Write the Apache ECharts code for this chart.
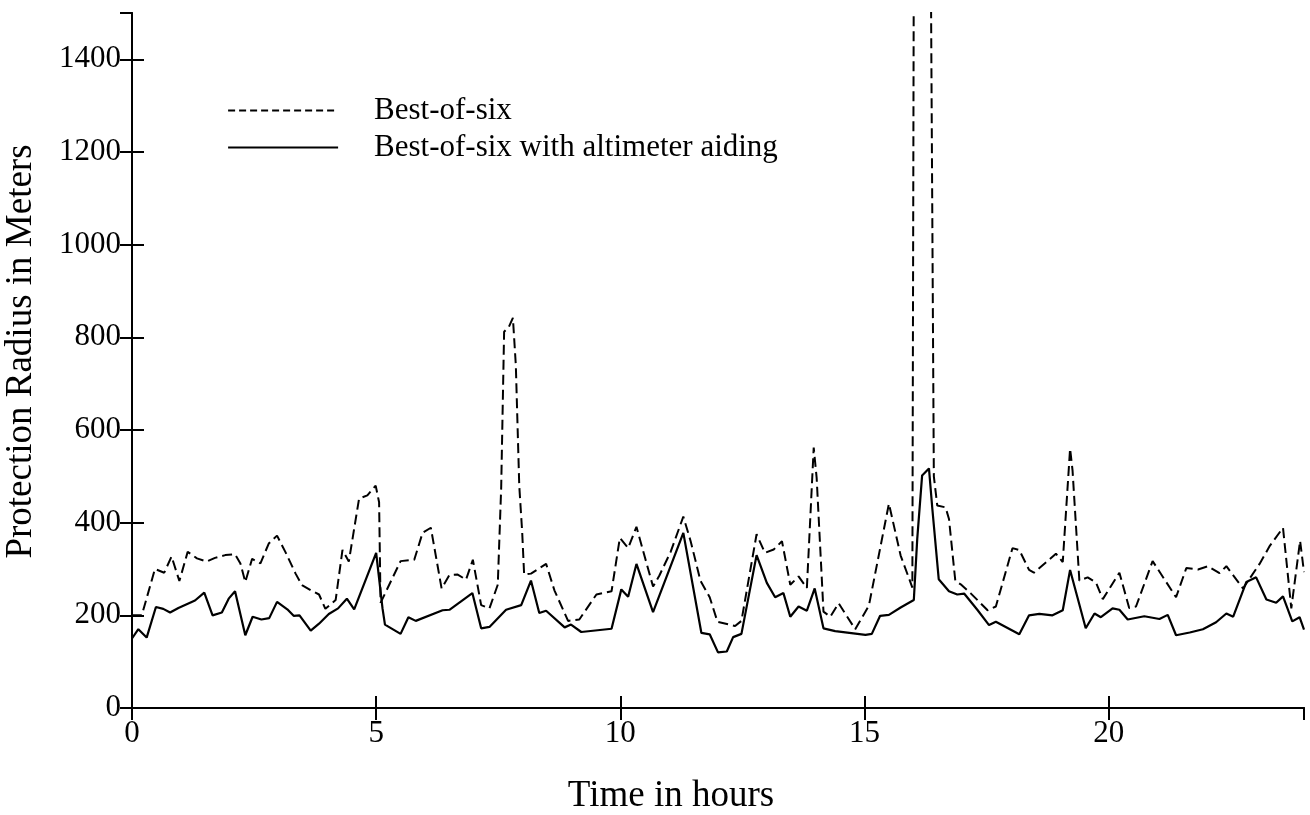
<!DOCTYPE html>
<html>
<head>
<meta charset="utf-8">
<script src="https://cdn.jsdelivr.net/npm/echarts@6/dist/echarts.min.js"></script>
<style>
html,body{margin:0;padding:0;background:#fff;}
#chart{width:1310px;height:815px;}
</style>
</head>
<body>
<div id="chart"></div>
<script>
// Time in hours / protection radius (m)
const dashT = [0,0.2,0.47,0.66,0.81,0.97,1.14,1.33,1.53,1.7,1.91,2.11,2.22,2.32,2.46,2.63,2.8,2.97,3.14,3.35,3.48,3.66,3.83,3.96,4.17,4.31,4.44,4.65,4.82,4.99,5.06,5.09,5.5,5.78,5.95,6.12,6.34,6.5,6.67,6.84,6.98,7.15,7.32,7.49,7.56,7.62,7.72,7.8,7.86,7.93,7.99,8.03,8.17,8.48,8.65,8.93,9.16,9.51,9.82,9.99,10.16,10.33,10.67,10.8,11.03,11.29,11.44,11.64,11.83,11.99,12.35,12.48,12.79,12.96,13.14,13.31,13.48,13.65,13.82,13.96,14.02,14.16,14.3,14.47,14.81,15.09,15.5,15.74,15.98,16.04,16.28,16.42,16.49,16.66,16.73,16.86,16.97,17.17,17.52,17.69,18.03,18.17,18.37,18.47,18.92,19.06,19.21,19.26,19.4,19.57,19.74,19.88,20.22,20.42,20.56,20.9,21.38,21.59,21.83,22.03,22.27,22.41,22.75,23.09,23.3,23.57,23.74,23.92,24];
const dashV = [200,200,300,292,327,274,337,323,316,324,330,332,312,272,322,312,355,372,337,290,265,254,245,214,233,341,316,452,459,480,444,227,317,320,378,389,258,287,288,277,320,222,215,266,475,812,823,842,740,480,380,288,290,311,254,188,191,245,252,367,345,391,262,286,337,413,360,275,239,186,177,188,375,335,342,360,266,284,259,562,497,208,197,226,170,221,441,329,260,3000,3000,500,437,433,408,274,267,248,211,219,345,341,298,292,333,315,560,513,275,282,271,235,292,216,219,317,239,302,299,306,291,306,258,311,350,389,215,361,293];
const solidT = [0,0.13,0.3,0.49,0.64,0.78,0.95,1.29,1.48,1.65,1.84,1.98,2.11,2.32,2.47,2.65,2.81,2.97,3.18,3.31,3.43,3.66,3.83,4.03,4.22,4.4,4.55,5.0,5.13,5.18,5.5,5.66,5.81,6.36,6.5,6.97,7.15,7.32,7.66,7.97,8.17,8.34,8.48,8.86,8.99,9.2,9.82,10.02,10.16,10.33,10.67,11.29,11.66,11.83,12.0,12.18,12.31,12.48,12.79,13.0,13.17,13.34,13.48,13.65,13.82,13.98,14.16,14.4,15.02,15.15,15.32,15.5,15.74,16.01,16.08,16.18,16.32,16.39,16.52,16.73,16.9,17.04,17.31,17.55,17.69,18.17,18.37,18.58,18.85,19.06,19.21,19.36,19.53,19.71,19.84,20.08,20.22,20.39,20.73,21.04,21.21,21.38,21.66,21.93,22.2,22.41,22.55,22.82,23.02,23.23,23.43,23.57,23.76,23.91,24];
const solidV = [150,170,152,218,214,206,216,232,249,200,206,236,252,157,197,191,194,229,213,199,200,167,182,203,215,236,213,335,215,180,160,196,188,211,212,248,172,175,212,222,275,205,210,174,180,164,171,256,240,311,207,378,162,159,120,122,153,160,330,270,239,248,197,219,210,258,172,166,158,160,199,201,217,233,365,502,517,429,278,252,245,247,212,179,186,159,200,203,200,211,298,239,172,204,196,215,212,191,198,192,201,157,163,170,185,204,197,272,282,234,227,241,187,196,169];
const seriesNames = ['Best-of-six','Best-of-six with altimeter aiding'];
const xTicks = [0,5,10,15,20];
const yTicks = [0,200,400,600,800,1000,1200,1400];

const FONT = 'Liberation Serif';
const chart = echarts.init(document.getElementById('chart'), null, {renderer:'canvas'});
const pair = (t, v) => t.map((x, i) => [x, v[i]]);
const axisLineStyle = {show:true, lineStyle:{color:'#000', width:2}};
const tickStyle = {show:true, inside:true, length:12, lineStyle:{color:'#000', width:2}};

chart.setOption({
  backgroundColor:'#fff',
  animation:false,
  grid:{left:132, right:6, top:13, bottom:107, containLabel:false, outerBoundsMode:'none'},
  legend:{
    left:222, top:90, orient:'vertical', itemWidth:110, itemHeight:14, itemGap:6,
    itemStyle:{opacity:0},
    data:[
      {name:seriesNames[0], lineStyle:{type:[7,4], width:2.2, color:'#000'}},
      {name:seriesNames[1], lineStyle:{type:'solid', width:2.2, color:'#000'}}
    ],
    textStyle:{fontFamily:FONT, fontSize:31, color:'#000', lineHeight:31, padding:[0,0,0,31]}
  },
  xAxis:[
    {type:'value', min:0, max:24, interval:5, position:'bottom',
     name:'Time in hours', nameLocation:'middle', nameGap:70,
     nameTextStyle:{fontFamily:FONT, fontSize:37, color:'#000', padding:[0,94,0,0]},
     axisLine:axisLineStyle, axisTick:tickStyle, splitLine:{show:false},
     axisLabel:{fontFamily:FONT, fontSize:31, color:'#000', margin:10, showMaxLabel:false,
       formatter:v => xTicks.includes(v) ? String(v) : ''}},
    {type:'value', min:0, max:24, interval:5, position:'top',
     axisLine:axisLineStyle, axisTick:tickStyle, splitLine:{show:false}, axisLabel:{show:false}}
  ],
  yAxis:[
    {type:'value', min:0, max:1500, interval:200, position:'left',
     name:'Protection Radius in Meters', nameLocation:'middle', nameGap:92,
     nameTextStyle:{fontFamily:FONT, fontSize:37, color:'#000', padding:[0,0,0,18]},
     axisLine:axisLineStyle, axisTick:tickStyle, splitLine:{show:false},
     axisLabel:{fontFamily:FONT, fontSize:31, color:'#000', margin:11, showMaxLabel:false,
       formatter:v => yTicks.includes(v) ? String(v) : ''}},
    {type:'value', min:0, max:1500, interval:200, position:'right',
     axisLine:axisLineStyle, axisTick:tickStyle, splitLine:{show:false}, axisLabel:{show:false}}
  ],
  series:[
    {name:seriesNames[0], type:'line', data:pair(dashT, dashV), symbol:'none', clip:true,
     lineStyle:{color:'#000', width:2, type:[10,5]}, itemStyle:{color:'#000'}},
    {name:seriesNames[1], type:'line', data:pair(solidT, solidV), symbol:'none', clip:true,
     lineStyle:{color:'#000', width:2.2, type:'solid'}, itemStyle:{color:'#000'}}
  ]
});
</script>
</body>
</html>
